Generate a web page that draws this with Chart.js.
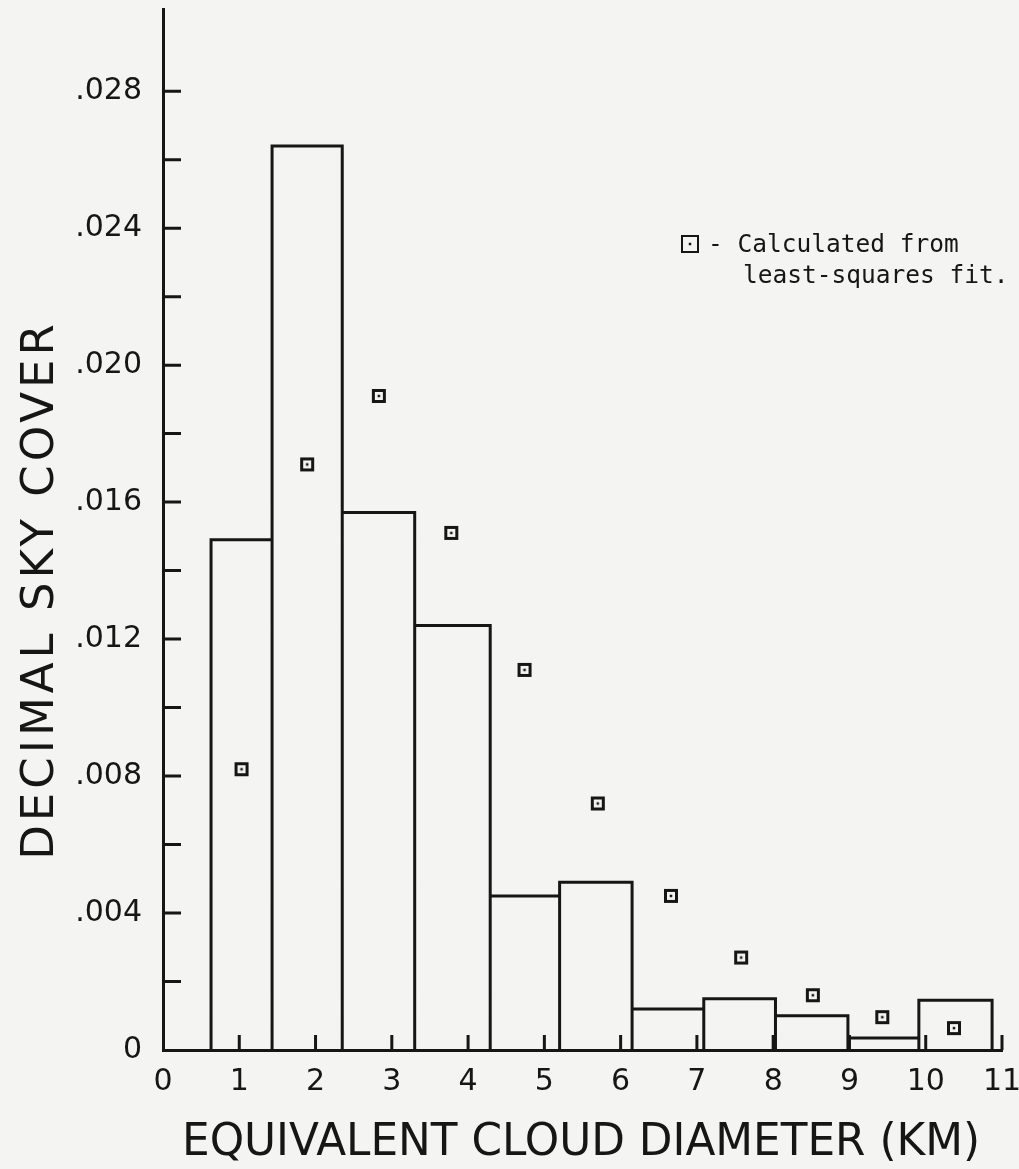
<!DOCTYPE html>
<html>
<head>
<meta charset="utf-8">
<script src="https://cdn.jsdelivr.net/npm/chart.js@4.4.1/dist/chart.umd.min.js"></script>
<style>
  html, body { margin: 0; padding: 0; background: #f4f4f2; }
  #wrap { width: 1019px; height: 1169px; }
</style>
</head>
<body>
<div id="wrap"><canvas id="chart" width="1019" height="1169"></canvas></div>
<script>
// histogram bins (km) and the observed sky cover in each
const binEdges = [0.63, 1.43, 2.35, 3.30, 4.29, 5.20, 6.15, 7.09, 8.03, 8.98, 9.91, 10.87];
const observed = [0.0149, 0.0264, 0.0157, 0.0124, 0.0045, 0.0049, 0.0012, 0.0015, 0.0010, 0.00035, 0.00145];

// values calculated from least-squares fit
const fitX = [1.03, 1.89, 2.83, 3.78, 4.74, 5.70, 6.66, 7.58, 8.52, 9.43, 10.37];
const fitY = [0.0082, 0.0171, 0.0191, 0.0151, 0.0111, 0.0072, 0.0045, 0.0027, 0.0016, 0.00096, 0.00064];

const xTicks = [0, 1, 2, 3, 4, 5, 6, 7, 8, 9, 10, 11];
const xTickLabels = ['0', '1', '2', '3', '4', '5', '6', '7', '8', '9', '10', '11'];
const yTicks = [0, 0.002, 0.004, 0.006, 0.008, 0.010, 0.012, 0.014, 0.016, 0.018, 0.020, 0.022, 0.024, 0.026, 0.028];
const yTickLabels = ['0', '', '.004', '', '.008', '', '.012', '', '.016', '', '.020', '', '.024', '', '.028'];

const ink = '#161616';
const paper = '#f4f4f2';

// outline of the bars, one rectangle after the other
function histogramOutline() {
  const pts = [];
  observed.forEach((h, i) => {
    const l = binEdges[i], r = binEdges[i + 1];
    pts.push({x: l, y: 0}, {x: l, y: h}, {x: r, y: h}, {x: r, y: 0});
  });
  return pts;
}

// square with a dot in the middle
function fitMarker(size, lw, dot) {
  const c = document.createElement('canvas');
  c.width = size; c.height = size;
  const g = c.getContext('2d');
  const o = 1 + lw / 2;
  g.fillStyle = paper;
  g.fillRect(o, o, size - 2 * o, size - 2 * o);
  g.strokeStyle = ink;
  g.lineWidth = lw;
  g.strokeRect(o, o, size - 2 * o, size - 2 * o);
  g.fillStyle = ink;
  g.fillRect(size / 2 - dot / 2, size / 2 - dot / 2, dot, dot);
  return c;
}
const pointImg = fitMarker(16, 3, 2.5);
const legendImg = fitMarker(20, 2, 2.5);

const paperBg = {
  id: 'paperBg',
  beforeDraw(chart) {
    const c = chart.ctx;
    c.save();
    c.fillStyle = paper;
    c.fillRect(0, 0, chart.width, chart.height);
    c.restore();
  }
};

// ticks point inwards, drawn by hand
const inwardTicks = {
  id: 'inwardTicks',
  afterDatasetsDraw(chart) {
    const c = chart.ctx, a = chart.chartArea;
    const xs = chart.scales.x, ys = chart.scales.y;
    c.save();
    c.strokeStyle = ink;
    c.lineWidth = 3;
    c.beginPath();
    yTicks.forEach(v => {
      if (v === 0) return;
      const y = ys.getPixelForValue(v);
      c.moveTo(a.left, y);
      c.lineTo(a.left + 18, y);
    });
    xTicks.forEach(v => {
      if (v === 0) return;
      const x = xs.getPixelForValue(v);
      c.moveTo(x, a.bottom);
      c.lineTo(x, a.bottom - 15);
    });
    c.stroke();
    c.restore();
  }
};

const titlesAndKey = {
  id: 'titlesAndKey',
  afterDraw(chart) {
    const c = chart.ctx;
    c.save();
    c.fillStyle = ink;
    c.textAlign = 'center';
    c.textBaseline = 'middle';
    c.font = '45px "DejaVu Sans"';
    c.fillText('EQUIVALENT CLOUD DIAMETER (KM)', 581, 1143, 798);
    c.save();
    c.translate(41, 590);
    c.rotate(-Math.PI / 2);
    c.letterSpacing = '4px';
    c.fillText('DECIMAL SKY COVER', 0, 0, 560);
    c.restore();

    // key
    c.drawImage(legendImg, 690 - 10, 244 - 10);
    c.textAlign = 'left';
    c.textBaseline = 'alphabetic';
    c.font = '24.5px "DejaVu Sans Mono"';
    c.fillText('- Calculated from', 708, 252);
    c.fillText('least-squares fit.', 743, 283);
    c.restore();
  }
};

new Chart(document.getElementById('chart'), {
  type: 'scatter',
  data: {
    datasets: [
      {
        type: 'line',
        data: histogramOutline(),
        borderColor: ink,
        borderWidth: 3,
        borderJoinStyle: 'miter',
        pointRadius: 0,
        tension: 0,
        fill: false,
        order: 2
      },
      {
        data: fitX.map((x, i) => ({x: x, y: fitY[i]})),
        pointStyle: pointImg,
        pointRadius: 8,
        showLine: false,
        order: 1
      }
    ]
  },
  plugins: [paperBg, inwardTicks, titlesAndKey],
  options: {
    responsive: false,
    animation: false,
    layout: { padding: { top: 0, right: 17, bottom: 0, left: 0 } },
    plugins: { legend: { display: false }, tooltip: { enabled: false } },
    scales: {
      x: {
        type: 'linear',
        min: 0,
        max: 11,
        afterBuildTicks: s => { s.ticks = xTicks.map(v => ({value: v})); },
        afterFit: s => { s.height = 119; s.paddingLeft = 0; s.paddingRight = 0; },
        ticks: {
          autoSkip: false,
          maxRotation: 0,
          padding: 14,
          color: ink,
          font: { family: 'DejaVu Sans', size: 30 },
          callback: (v, i) => xTickLabels[i]
        },
        grid: { drawOnChartArea: false, drawTicks: false },
        border: { display: true, color: ink, width: 3 }
      },
      y: {
        type: 'linear',
        min: 0,
        max: 0.0304,
        afterBuildTicks: s => { s.ticks = yTicks.map(v => ({value: v})); },
        afterFit: s => { s.width = 163; s.paddingTop = 0; s.paddingBottom = 0; },
        ticks: {
          autoSkip: false,
          padding: 21,
          color: ink,
          font: { family: 'DejaVu Sans', size: 30 },
          callback: (v, i) => yTickLabels[i]
        },
        grid: { drawOnChartArea: false, drawTicks: false },
        border: { display: true, color: ink, width: 3 }
      }
    }
  }
});
</script>
</body>
</html>
